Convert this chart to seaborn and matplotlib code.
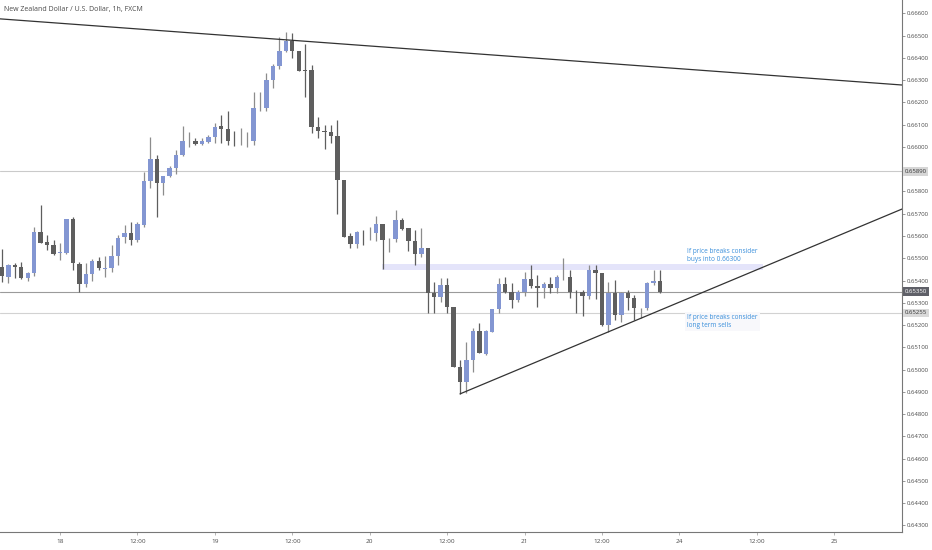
import numpy as np
import matplotlib
matplotlib.use("Agg")
import matplotlib.pyplot as plt
import seaborn as sns

# hourly NZDUSD candles, hour 0 = day 18 00:00 (weekend hours skipped)
first_hour = -9
opens = [0.65461, 0.65416, 0.65470, 0.65461, 0.65412, 0.65434, 0.65618, 0.65573, 0.65560, 0.65524,
         0.65524, 0.65677, 0.65475, 0.65385, 0.65430, 0.65488, 0.65454, 0.65457, 0.65511, 0.65596,
         0.65614, 0.65582, 0.65650, 0.65847, 0.65946, 0.65838, 0.65870, 0.65906, 0.65964, 0.66025,
         0.66027, 0.66013, 0.66022, 0.66045, 0.66094, 0.66081, 0.66027, 0.66026, 0.66025, 0.66027,
         0.66173, 0.66175, 0.66301, 0.66364, 0.66431, 0.66476, 0.66431, 0.66346, 0.66346, 0.66090,
         0.66072, 0.66067, 0.66049, 0.65852, 0.65600, 0.65564, 0.65614, 0.65613, 0.65614, 0.65654,
         0.65589, 0.65587, 0.65672, 0.65636, 0.65578, 0.65520, 0.65547, 0.65344, 0.65326, 0.65380,
         0.65282, 0.65012, 0.64945, 0.65044, 0.65174, 0.65070, 0.65169, 0.65273, 0.65385, 0.65349,
         0.65313, 0.65349, 0.65407, 0.65376, 0.65367, 0.65385, 0.65367, 0.65414, 0.65416, 0.65349,
         0.65349, 0.65331, 0.65448, 0.65434, 0.65201, 0.65344, 0.65246, 0.65344, 0.65322, 0.65275,
         0.65277, 0.65389, 0.65398]
highs = [0.65542, 0.65475, 0.65479, 0.65484, 0.65439, 0.65641, 0.65740, 0.65605, 0.65582, 0.65569,
         0.65677, 0.65686, 0.65484, 0.65479, 0.65497, 0.65506, 0.65511, 0.65560, 0.65605, 0.65650,
         0.65663, 0.65663, 0.65888, 0.66045, 0.65964, 0.65870, 0.65915, 0.65987, 0.66094, 0.66067,
         0.66040, 0.66040, 0.66054, 0.66108, 0.66144, 0.66162, 0.66072, 0.66085, 0.66067, 0.66247,
         0.66247, 0.66332, 0.66373, 0.66494, 0.66516, 0.66512, 0.66431, 0.66462, 0.66368, 0.66135,
         0.66099, 0.66099, 0.66121, 0.65852, 0.65614, 0.65623, 0.65627, 0.65641, 0.65690, 0.65654,
         0.65591, 0.65717, 0.65681, 0.65636, 0.65627, 0.65636, 0.65547, 0.65394, 0.65412, 0.65412,
         0.65282, 0.65044, 0.65124, 0.65187, 0.65210, 0.65178, 0.65273, 0.65412, 0.65416, 0.65389,
         0.65358, 0.65439, 0.65470, 0.65425, 0.65394, 0.65416, 0.65425, 0.65502, 0.65448, 0.65358,
         0.65358, 0.65470, 0.65470, 0.65434, 0.65394, 0.65403, 0.65349, 0.65358, 0.65335, 0.65277,
         0.65394, 0.65448, 0.65448]
lows = [0.65394, 0.65389, 0.65412, 0.65407, 0.65398, 0.65421, 0.65569, 0.65538, 0.65515, 0.65493,
        0.65520, 0.65448, 0.65349, 0.65371, 0.65398, 0.65448, 0.65416, 0.65439, 0.65470, 0.65569,
        0.65560, 0.65573, 0.65641, 0.65816, 0.65686, 0.65784, 0.65865, 0.65879, 0.65960, 0.66000,
        0.66009, 0.66009, 0.66018, 0.66018, 0.66018, 0.66009, 0.66005, 0.66009, 0.66000, 0.66009,
        0.66162, 0.66162, 0.66265, 0.66350, 0.66427, 0.66400, 0.66341, 0.66225, 0.66063, 0.66040,
        0.65991, 0.66018, 0.65699, 0.65596, 0.65547, 0.65547, 0.65560, 0.65582, 0.65578, 0.65452,
        0.65529, 0.65573, 0.65627, 0.65533, 0.65470, 0.65506, 0.65255, 0.65255, 0.65304, 0.65255,
        0.65012, 0.64891, 0.64895, 0.64990, 0.65075, 0.65066, 0.65169, 0.65255, 0.65344, 0.65277,
        0.65304, 0.65331, 0.65367, 0.65282, 0.65322, 0.65344, 0.65344, 0.65403, 0.65322, 0.65255,
        0.65241, 0.65318, 0.65318, 0.65196, 0.65169, 0.65223, 0.65214, 0.65268, 0.65223, 0.65232,
        0.65268, 0.65380, 0.65344]
closes = [0.65421, 0.65470, 0.65461, 0.65412, 0.65434, 0.65618, 0.65569, 0.65560, 0.65520, 0.65529,
          0.65677, 0.65479, 0.65385, 0.65430, 0.65488, 0.65457, 0.65457, 0.65511, 0.65591, 0.65614,
          0.65582, 0.65654, 0.65847, 0.65946, 0.65838, 0.65870, 0.65906, 0.65964, 0.66027, 0.66027,
          0.66013, 0.66027, 0.66045, 0.66090, 0.66081, 0.66027, 0.66025, 0.66027, 0.66027, 0.66175,
          0.66175, 0.66301, 0.66364, 0.66431, 0.66476, 0.66431, 0.66341, 0.66343, 0.66090, 0.66072,
          0.66067, 0.66049, 0.65852, 0.65596, 0.65564, 0.65618, 0.65612, 0.65614, 0.65654, 0.65582,
          0.65591, 0.65672, 0.65632, 0.65578, 0.65520, 0.65547, 0.65344, 0.65326, 0.65380, 0.65282,
          0.65012, 0.64945, 0.65044, 0.65174, 0.65075, 0.65174, 0.65273, 0.65385, 0.65349, 0.65313,
          0.65349, 0.65407, 0.65376, 0.65367, 0.65385, 0.65367, 0.65416, 0.65416, 0.65349, 0.65347,
          0.65331, 0.65448, 0.65434, 0.65201, 0.65344, 0.65246, 0.65344, 0.65322, 0.65277, 0.65277,
          0.65389, 0.65398, 0.65350]

tick_hours = [0, 12, 24, 36, 48, 60, 72, 84, 96, 108, 120]
tick_labels = ["18", "12:00", "19", "12:00", "20", "12:00", "21", "12:00", "24", "12:00", "25"]
price_ticks = [0.643, 0.644, 0.645, 0.646, 0.647, 0.648, 0.649, 0.650, 0.651, 0.652, 0.653,
               0.654, 0.655, 0.656, 0.657, 0.658, 0.659, 0.660, 0.661, 0.662, 0.663, 0.664,
               0.665, 0.666]

# drawings on the chart
down_trend_x = [-9.3, 130.5]
down_trend_y = [0.66575, 0.66278]
up_trend_x = [62.0, 130.5]
up_trend_y = [0.64891, 0.65721]
levels = [0.65890, 0.65350, 0.65255]
level_colors = ["#cacaca", "#9b9b9b", "#d2d2d2"]
zone_x = [49.9, 109.0]
zone_y = [0.65448, 0.65475]
note_top = "If price breaks consider\nbuys into 0.66300"
note_bottom = "If price breaks consider\nlong term sells"

sns.set_theme(style="white")
plt.rcParams["font.family"] = ["Liberation Sans Narrow", "Open Sans", "DejaVu Sans"]

fig = plt.figure(figsize=(9.32, 5.5), dpi=100)
ax = fig.add_axes([0, 18 / 550, 902 / 932, 532 / 550])

hours = np.arange(len(opens)) + first_hour
o = np.array(opens)
c = np.array(closes)
up = c >= o
body_col = np.where(up, "#8396d2", "#5e5e5e")
wick_col = np.where(up, "#8c8c8c", "#5e5e5e")

ax.vlines(hours, lows, highs, colors=wick_col, linewidth=0.9, zorder=3)
ax.bar(hours, np.maximum(np.abs(c - o), 0.000025), bottom=np.minimum(o, c),
       width=0.68, color=body_col, linewidth=0, zorder=4)

for lv, col in zip(levels, level_colors):
    ax.axhline(lv, color=col, linewidth=0.8, zorder=1)

ax.fill_between(zone_x, zone_y[0], zone_y[1], color="#e4e4fa", linewidth=0, zorder=0.5)

sns.lineplot(x=down_trend_x, y=down_trend_y, color="#333333", linewidth=0.9, ax=ax, zorder=5)
sns.lineplot(x=up_trend_x, y=up_trend_y, color="#333333", linewidth=0.9, ax=ax, zorder=5)

ax.text(97.2, 0.65513, note_top, color="#3a8fdb", fontsize=4.7, va="center", ha="left",
        linespacing=1.2, zorder=6)
ax.text(97.2, 0.65216, note_bottom, color="#3a8fdb", fontsize=4.7, va="center", ha="left",
        linespacing=1.2, zorder=6,
        bbox=dict(boxstyle="square,pad=0.3", facecolor="#f8f8fb", edgecolor="none"))

ax.set_xlim(-9.3, 130.5)
ax.set_ylim(0.642708, 0.666597)

ax.yaxis.tick_right()
ax.set_yticks(price_ticks)
ax.set_yticklabels(["" if abs(p - 0.659) < 1e-9 else f"{p:.5f}" for p in price_ticks])
ax.set_xticks(tick_hours)
ax.set_xticklabels(tick_labels)
ax.tick_params(axis="y", which="both", length=2.5, width=0.6, color="#888888", pad=1.2,
               labelsize=4.3, labelcolor="#4a4a4a", right=True, left=False)
ax.tick_params(axis="x", length=2.5, width=0.6, color="#aaaaaa", pad=2.5,
               labelsize=4.6, labelcolor="#4a4a4a", bottom=True)

for side in ["top", "left"]:
    ax.spines[side].set_visible(False)
ax.spines["right"].set_color("#777777")
ax.spines["right"].set_linewidth(0.8)
ax.spines["bottom"].set_color("#777777")
ax.spines["bottom"].set_linewidth(0.8)
ax.grid(False)

# price labels on the right scale
label_style = [("#d6d6d6", "#333333"), ("#5f6068", "#ffffff"), ("#d9d9d9", "#333333")]
for lv, (bg, fg) in zip(levels, label_style):
    ax.text(1.003, lv, f"{lv:.5f}", transform=ax.get_yaxis_transform(), fontsize=4.3,
            color=fg, va="center", ha="left", clip_on=False, zorder=10,
            bbox=dict(boxstyle="square,pad=0.3", facecolor=bg, edgecolor="none"))

fig.text(4 / 932, 1 - 10 / 550, "New Zealand Dollar / U.S. Dollar, 1h, FXCM",
         fontsize=5.0, color="#4a4a4a", va="center", ha="left")

fig.savefig("out.png", dpi=100)
